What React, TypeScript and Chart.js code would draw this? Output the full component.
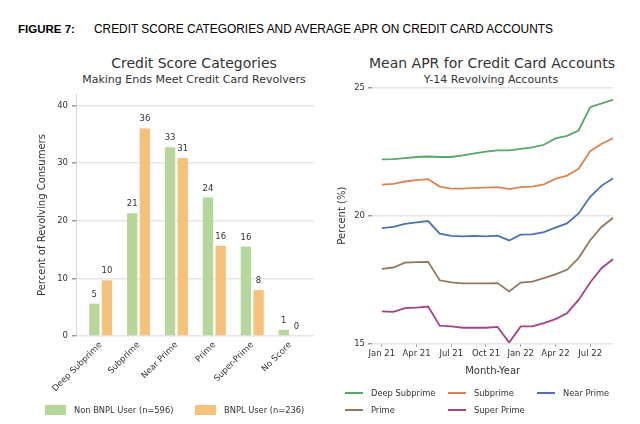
import React, { useEffect, useRef } from "react";
import { Chart, registerables } from "chart.js";

Chart.register(...registerables);

// ---------- Left chart data ----------
const categories = ["Deep Subprime", "Subprime", "Near Prime", "Prime", "Super-Prime", "No Score"];
const nonBnpl = [5.6, 21.3, 32.75, 24.0, 15.5, 1.07];
const bnpl = [9.65, 36.0, 30.85, 15.65, 7.96, 0];
const nonBnplLabels = ["5", "21", "33", "24", "16", "1"];
const bnplLabels = ["10", "36", "31", "16", "8", "0"];
const leftYTicks = [0, 10, 20, 30, 40];

// ---------- Right chart data ----------
const months = [
  "Jan 21", "Feb 21", "Mar 21", "Apr 21", "May 21", "Jun 21", "Jul 21", "Aug 21", "Sep 21",
  "Oct 21", "Nov 21", "Dec 21", "Jan 22", "Feb 22", "Mar 22", "Apr 22", "May 22", "Jun 22",
  "Jul 22", "Aug 22", "Sep 22",
];
const monthTickIdx = [0, 3, 6, 9, 12, 15, 18];
const deepSubprime = [22.21, 22.22, 22.26, 22.30, 22.32, 22.30, 22.30, 22.36, 22.44, 22.51, 22.56, 22.56, 22.62, 22.68, 22.78, 23.03, 23.13, 23.34, 24.25, 24.40, 24.55];
const subprime = [21.22, 21.25, 21.34, 21.39, 21.43, 21.14, 21.06, 21.06, 21.09, 21.10, 21.12, 21.04, 21.12, 21.14, 21.23, 21.44, 21.57, 21.84, 22.53, 22.82, 23.04];
const nearPrime = [19.51, 19.56, 19.68, 19.74, 19.79, 19.30, 19.21, 19.19, 19.21, 19.19, 19.22, 19.03, 19.26, 19.27, 19.36, 19.53, 19.70, 20.09, 20.74, 21.18, 21.47];
const prime = [17.92, 17.97, 18.16, 18.18, 18.19, 17.47, 17.39, 17.35, 17.35, 17.35, 17.36, 17.03, 17.38, 17.42, 17.55, 17.70, 17.88, 18.34, 19.04, 19.57, 19.92];
const superPrime = [16.25, 16.23, 16.38, 16.40, 16.44, 15.69, 15.66, 15.61, 15.61, 15.61, 15.64, 15.03, 15.66, 15.66, 15.79, 15.95, 16.18, 16.70, 17.38, 17.95, 18.30];

const seriesNames = ["Deep Subprime", "Subprime", "Near Prime", "Prime", "Super Prime"];
const seriesData = [deepSubprime, subprime, nearPrime, prime, superPrime];
const seriesColors = ["#55a868", "#dd8452", "#4c72b0", "#937860", "#a8428a"];

const GREEN = "#b7d69c";
const ORANGE = "#f5c27b";
const TEXT = "#333333";
const GRID = "#e6e6e6";
const FONT = "'DejaVu Sans', sans-serif";

Chart.defaults.font.family = FONT;
Chart.defaults.color = TEXT;

const barLabelPlugin = {
  id: "barLabels",
  afterDatasetsDraw(chart: any) {
    const ctx = chart.ctx;
    const labelSets = [nonBnplLabels, bnplLabels];
    ctx.save();
    ctx.font = `8.5px ${FONT}`;
    ctx.fillStyle = TEXT;
    ctx.textAlign = "center";
    ctx.textBaseline = "middle";
    chart.data.datasets.forEach((_: any, di: number) => {
      const meta = chart.getDatasetMeta(di);
      meta.data.forEach((el: any, i: number) => {
        ctx.fillText(labelSets[di][i], el.x, el.y - 9.3);
      });
    });
    ctx.restore();
  },
};

function LeftChart() {
  const ref = useRef<HTMLCanvasElement>(null);
  useEffect(() => {
    const chart = new Chart(ref.current!, {
      type: "bar",
      data: {
        datasets: [
          { label: "Non BNPL User (n=596)", data: nonBnpl.map((y, i) => ({ x: i, y })), backgroundColor: GREEN, categoryPercentage: 0.67, barPercentage: 0.81 },
          { label: "BNPL User (n=236)", data: bnpl.map((y, i) => ({ x: i, y })), backgroundColor: ORANGE, categoryPercentage: 0.67, barPercentage: 0.81 },
        ],
      } as any,
      options: {
        animation: false,
        responsive: false,
        layout: { padding: { top: 1.3, right: 6, left: 0, bottom: 0 } },
        plugins: { legend: { display: false }, tooltip: { enabled: false } },
        scales: {
          x: {
            type: "linear",
            offset: false,
            min: -0.65,
            max: 5.63,
            afterBuildTicks: (s: any) => { s.ticks = categories.map((_, i) => ({ value: i })); },
            afterFit: (s: any) => { s.height = 64; },
            ticks: {
              autoSkip: false,
              minRotation: 45,
              maxRotation: 45,
              padding: 4,
              font: { size: 8.5 },
              color: TEXT,
              callback: (v: any) => categories[v] ?? "",
            },
            grid: { display: false, drawTicks: false, offset: false },
            border: { display: false },
          },
          y: {
            min: 0,
            max: 41.95,
            afterBuildTicks: (s: any) => { s.ticks = leftYTicks.map((v) => ({ value: v })); },
            afterFit: (s: any) => { s.width = 76; },
            ticks: { padding: 4, font: { size: 8.5 }, color: TEXT },
            grid: { color: GRID, lineWidth: 1.5, tickLength: 4, tickColor: "#999" },
            border: { display: true, color: "#d4d4d4", width: 1 },
            title: { display: true, text: "Percent of Revolving Consumers", font: { size: 10 }, color: TEXT, padding: { top: 36, bottom: 0 } },
          },
        },
      } as any,
      plugins: [barLabelPlugin],
    });
    return () => chart.destroy();
  }, []);
  return <canvas ref={ref} width={320} height={315} style={{ position: "absolute", left: 0, top: 85, width: 320, height: 315 }} />;
}

function RightChart() {
  const ref = useRef<HTMLCanvasElement>(null);
  useEffect(() => {
    const chart = new Chart(ref.current!, {
      type: "line",
      data: {
        datasets: seriesNames.map((name, k) => ({
          label: name,
          data: seriesData[k].map((y, i) => ({ x: i, y })),
          borderColor: seriesColors[k],
          backgroundColor: seriesColors[k],
          borderWidth: 1.8,
          pointRadius: 0,
          tension: 0,
        })),
      } as any,
      options: {
        animation: false,
        responsive: false,
        layout: { padding: { top: 7.3, right: 26.7, left: 0, bottom: 0 } },
        plugins: { legend: { display: false }, tooltip: { enabled: false } },
        scales: {
          x: {
            type: "linear",
            offset: false,
            min: -0.85,
            max: 20,
            afterBuildTicks: (s: any) => { s.ticks = monthTickIdx.map((v) => ({ value: v })); },
            afterFit: (s: any) => { s.height = 36.7; },
            ticks: {
              autoSkip: false,
              maxRotation: 0,
              minRotation: 0,
              padding: 2,
              font: { size: 8.5 },
              color: TEXT,
              callback: (v: any) => months[v] ?? "",
            },
            grid: { drawOnChartArea: false, tickLength: 3.5, tickColor: "#999", color: GRID },
            border: { display: false },
            title: { display: true, text: "Month-Year", font: { size: 10 }, color: TEXT, padding: { top: 0, bottom: 2.3 } },
          },
          y: {
            min: 15,
            max: 25,
            afterBuildTicks: (s: any) => { s.ticks = [15, 20, 25].map((v) => ({ value: v })); },
            afterFit: (s: any) => { s.width = 52; },
            ticks: { padding: 3, font: { size: 8.5 }, color: TEXT },
            grid: { color: GRID, lineWidth: 1.5, tickLength: 4, tickColor: "#999" },
            border: { display: false },
            title: { display: true, text: "Percent (%)", font: { size: 10 }, color: TEXT, padding: { top: 16, bottom: 0 } },
          },
        },
      } as any,
    });
    return () => chart.destroy();
  }, []);
  return <canvas ref={ref} width={320} height={300} style={{ position: "absolute", left: 320, top: 80, width: 320, height: 300 }} />;
}

function Txt(props: { x: number; y: number; size: number; children: any; center?: boolean; bold?: boolean; family?: string; color?: string }) {
  const { x, y, size, center, bold, family, color } = props;
  return (
    <div
      style={{
        position: "absolute",
        left: x,
        top: y,
        fontSize: size,
        lineHeight: `${size}px`,
        fontFamily: family ?? FONT,
        fontWeight: bold ? 700 : 400,
        color: color ?? TEXT,
        whiteSpace: "nowrap",
        transform: center ? "translateX(-50%)" : undefined,
      }}
    >
      {props.children}
    </div>
  );
}

function Swatch(props: { x: number; y: number; w: number; h: number; color: string }) {
  return <div style={{ position: "absolute", left: props.x, top: props.y, width: props.w, height: props.h, background: props.color }} />;
}

export default function App() {
  const legendPos = [
    [345, 393], [448, 393], [537, 393], [345, 410], [448, 410],
  ];
  return (
    <div style={{ position: "absolute", left: 0, top: 0, width: 640, height: 424, background: "#fff", overflow: "hidden" }}>
      <Txt x={18} y={24.3} size={11.5} bold family="'Liberation Sans', Arial, sans-serif" color="#000">FIGURE 7:</Txt>
      <Txt x={94} y={24.1} size={11.9} family="'Liberation Sans', Arial, sans-serif" color="#000">CREDIT SCORE CATEGORIES AND AVERAGE APR ON CREDIT CARD ACCOUNTS</Txt>

      <Txt x={194} y={56.2} size={14} center>Credit Score Categories</Txt>
      <Txt x={194} y={74} size={11} center>Making Ends Meet Credit Card Revolvers</Txt>
      <Txt x={492} y={56.2} size={14} center>Mean APR for Credit Card Accounts</Txt>
      <Txt x={491} y={74} size={11} center>Y-14 Revolving Accounts</Txt>

      <LeftChart />
      <RightChart />

      <Swatch x={45} y={405} w={21} h={10} color={GREEN} />
      <Txt x={74} y={405.8} size={8.3}>Non BNPL User (n=596)</Txt>
      <Swatch x={195} y={405} w={21} h={10} color={ORANGE} />
      <Txt x={224} y={405.8} size={8.3}>BNPL User (n=236)</Txt>

      {seriesNames.map((name, k) => (
        <React.Fragment key={name}>
          <Swatch x={legendPos[k][0]} y={legendPos[k][1] - 1.25} w={18} h={2.5} color={seriesColors[k]} />
          <Txt x={legendPos[k][0] + 26} y={legendPos[k][1] - 4.2} size={8.3}>{name}</Txt>
        </React.Fragment>
      ))}
    </div>
  );
}
